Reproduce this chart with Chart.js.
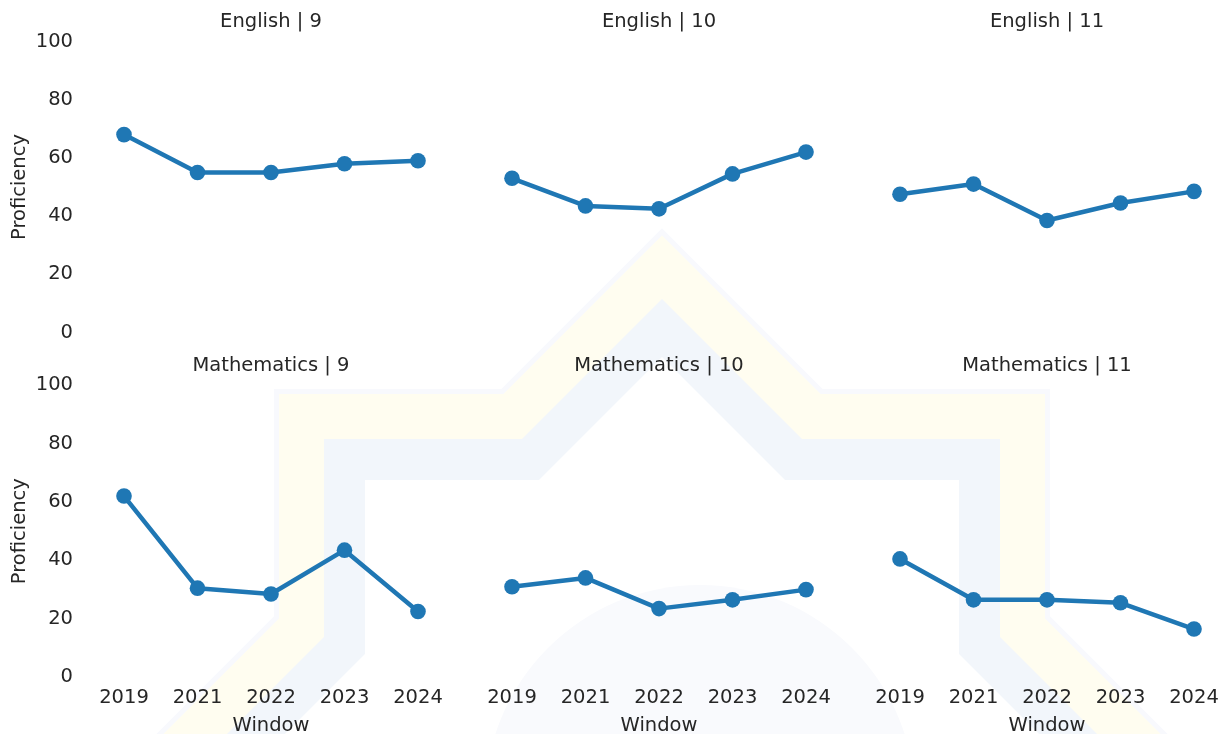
<!DOCTYPE html>
<html>
<head>
<meta charset="utf-8">
<title>Proficiency by window</title>
<script src="https://cdn.jsdelivr.net/npm/chart.js@4.4.1/dist/chart.umd.min.js"></script>
<style>
  html, body { margin: 0; padding: 0; background: #fff; overflow: hidden; }
  #figure { position: relative; width: 1220px; height: 734px; overflow: hidden; background: #fff; }
  #figure svg, #figure canvas { position: absolute; }
</style>
</head>
<body>
<div id="figure">
  <svg id="mark" width="1220" height="734" style="left:0;top:0">
    <polygon id="starEdge" fill="#f8f9fd"></polygon>
    <polygon id="starOuter" fill="#fffdf0"></polygon>
    <polygon id="starMid" fill="#f2f6fb"></polygon>
    <polygon id="starInner" fill="#ffffff"></polygon>
    <circle cx="700" cy="800" r="215" fill="#f9fafd"></circle>
  </svg>
  <canvas id="c00" width="444" height="348" style="left:0px;top:0px"></canvas>
  <canvas id="c01" width="444" height="348" style="left:388px;top:0px"></canvas>
  <canvas id="c02" width="444" height="348" style="left:776px;top:0px"></canvas>
  <canvas id="c10" width="444" height="396" style="left:0px;top:343px"></canvas>
  <canvas id="c11" width="444" height="396" style="left:388px;top:343px"></canvas>
  <canvas id="c12" width="444" height="396" style="left:776px;top:343px"></canvas>
</div>
<script>
// data
const windows = ['2019', '2021', '2022', '2023', '2024'];
const subjects = ['English', 'Mathematics'];
const grades = ['9', '10', '11'];

const english9 = [68, 55, 55, 58, 59];
const english10 = [53, 43.5, 42.5, 54.5, 62];
const english11 = [47.5, 51, 38.5, 44.5, 48.5];
const math9 = [62, 30.5, 28.5, 43.5, 22.5];
const math10 = [31, 34, 23.5, 26.5, 30];
const math11 = [40.5, 26.5, 26.5, 25.5, 16.5];

const yMin = 0, yMax = 100, yStep = 20;

const lineBlue = '#1f77b4';
const ink = '#262626';
const font = { family: '"DejaVu Sans", Verdana, sans-serif', size: 19.5, weight: 'normal' };

// faint star watermark behind the panels
function starPoints(cx, cy, s) {
    const a = s * (Math.SQRT2 - 1), r = s * Math.SQRT2;
    const pts = [
        [cx, cy - r], [cx + a, cy - s], [cx + s, cy - s], [cx + s, cy - a],
        [cx + r, cy], [cx + s, cy + a], [cx + s, cy + s], [cx + a, cy + s],
        [cx, cy + r], [cx - a, cy + s], [cx - s, cy + s], [cx - s, cy + a],
        [cx - r, cy], [cx - s, cy - a], [cx - s, cy - s], [cx - a, cy - s]
    ];
    return pts.map(p => p[0].toFixed(1) + ',' + p[1].toFixed(1)).join(' ');
}
document.getElementById('starEdge').setAttribute('points', starPoints(662, 777, 388));
document.getElementById('starOuter').setAttribute('points', starPoints(662, 777, 383));
document.getElementById('starMid').setAttribute('points', starPoints(662, 777, 338));
document.getElementById('starInner').setAttribute('points', starPoints(662, 777, 297));

function makePanel(id, title, values, row, col) {
    const firstCol = col === 0;
    const bottomRow = row === 1;

    new Chart(document.getElementById(id), {
        type: 'line',
        data: {
            labels: windows,
            datasets: [{
                data: values,
                borderColor: lineBlue,
                backgroundColor: lineBlue,
                borderWidth: 4.5,
                borderJoinStyle: 'round',
                pointRadius: 7.8,
                pointHoverRadius: 7.8,
                pointBorderWidth: 0,
                tension: 0,
                clip: false
            }]
        },
        options: {
            responsive: false,
            animation: false,
            events: [],
            layout: { padding: { left: 0, right: 26, top: 0, bottom: bottomRow ? 0 : 15.5 } },
            plugins: {
                legend: { display: false },
                tooltip: { enabled: false },
                title: {
                    display: true,
                    text: title,
                    fullSize: false,
                    color: ink,
                    font: font,
                    padding: bottomRow ? { top: 11.3, bottom: 7.3 } : { top: 10, bottom: 8.1 }
                }
            },
            scales: {
                x: {
                    display: bottomRow,
                    offset: false,
                    // tick marks stay hidden, their length only pushes the labels down
                    grid: { display: false, drawTicks: true, tickLength: 9, color: 'rgba(0,0,0,0)' },
                    border: { display: false },
                    ticks: { color: ink, font: font, padding: 0, maxRotation: 0, autoSkip: false },
                    title: { display: true, text: 'Window', color: ink, font: font, padding: { top: 0, bottom: 1.3 } },
                    afterFit: (scale) => { scale.height = bottomRow ? 61.7 : 0; }
                },
                y: {
                    min: yMin,
                    max: yMax,
                    grid: { display: false, drawTicks: true, tickLength: 48, color: 'rgba(0,0,0,0)' },
                    border: { display: false },
                    ticks: { display: firstCol, stepSize: yStep, padding: 3, color: ink, font: font },
                    title: { display: firstCol, text: 'Proficiency', color: ink, font: font, padding: { top: 7.8, bottom: 0 } },
                    afterFit: (scale) => { scale.width = 124; }
                }
            }
        }
    });
}

const series = [
    [english9, english10, english11],
    [math9, math10, math11]
];

subjects.forEach((subject, row) => {
    grades.forEach((grade, col) => {
        makePanel('c' + row + col, subject + ' | ' + grade, series[row][col], row, col);
    });
});
</script>
</body>
</html>
